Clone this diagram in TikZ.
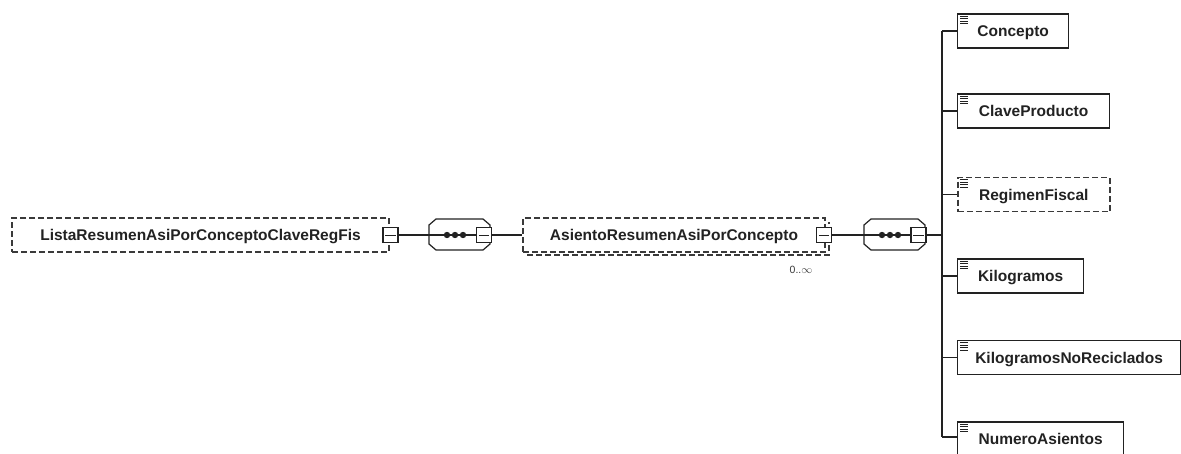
\documentclass[tikz,border=0pt]{standalone}
\usepackage{fontspec}
\setmainfont{Liberation Sans}
\definecolor{ink}{HTML}{222222}
\definecolor{dashgray}{HTML}{3A3A3A}
\tikzset{
  elem/.style={draw=ink, line width=1.3pt, fill=white, minimum height=34pt, inner sep=0pt,
    font=\fontsize{15.5}{16}\selectfont\bfseries, text=ink, text height=11pt, text depth=0pt},
  optelem/.style={elem, draw=dashgray, line width=1.5pt, dash pattern=on 6pt off 3pt},
  minusbox/.style={draw=ink, line width=1.2pt, fill=white, minimum size=15pt, inner sep=0pt},
  conn/.style={draw=ink, line width=1.2pt},
  octo/.style={draw=ink, line width=1.2pt, fill=white},
  dot/.style={fill=ink, draw=none},
  card/.style={font=\fontsize{10.5}{11}\selectfont, text=dashgray, inner sep=0pt}
}
\newcommand{\minuslines}[1]{\draw[ink, line width=1pt] ([xshift=3pt]#1.west) -- ([xshift=-3pt]#1.east);}
\newcommand{\docicon}[1]{%
  \coordinate (tmp) at (#1.north west);
  \foreach \yy in {3,5.5,8,10.5} {\draw[ink, line width=0.8pt] ([shift={(3,\yy)}]tmp) -- ([shift={(11,\yy)}]tmp);}}
\begin{document}
\begin{tikzpicture}[x=1pt,y=-1pt]
\useasboundingbox (0,0) rectangle (1181,453);
\fill[white] (0,0) rectangle (1181,453);

% left root element
\node[optelem, minimum width=377pt] (root) at (200.5,235) {ListaResumenAsiPorConceptoClaveRegFis};
\node[minusbox] (sqR) at (390.5,235) {};
\minuslines{sqR}

% sequence 1
\draw[octo] (436,219) -- (483,219) -- (490,225) -- (490,244) -- (483,250) -- (436,250) -- (429,244) -- (429,225) -- cycle;
\coordinate (oc1w) at (429,235);
\node[minusbox] (sq1) at (484,235) {};
\minuslines{sq1}
\draw[conn] (oc1w) -- (sq1.west);
\foreach \x in {447,455,463} \fill[dot] (\x,235) circle (3.2pt);
\draw[conn] (sqR.east) -- (oc1w);

% middle element (repeating)
\draw[draw=dashgray, line width=1.5pt, dash pattern=on 6pt off 3pt] (527,255) -- (829,255) -- (829,222);
\node[optelem, minimum width=302pt] (mid) at (674,235) {AsientoResumenAsiPorConcepto};
\node[minusbox] (sqM) at (824,235) {};
\minuslines{sqM}
\node[card] (cardM) at (801,270) {0..$\infty$};
\draw[conn] (sq1.east) -- (mid.west);

% sequence 2
\draw[octo] (871,219) -- (918,219) -- (925,225) -- (925,244) -- (918,250) -- (871,250) -- (864,244) -- (864,225) -- cycle;
\coordinate (oc2w) at (864,235);
\node[minusbox] (sq2) at (918.5,235) {};
\minuslines{sq2}
\draw[conn] (oc2w) -- (sq2.west);
\foreach \x in {882,890,898} \fill[dot] (\x,235) circle (3.2pt);
\draw[conn] (sqM.east) -- (oc2w);

% children
\node[elem, anchor=west, minimum width=111pt] (c1) at (957,31) {Concepto};
\node[elem, anchor=west, minimum width=152pt] (c2) at (957,111) {ClaveProducto};
\node[optelem, anchor=west, minimum width=152pt] (c3) at (957,194.5) {RegimenFiscal};
\node[elem, anchor=west, minimum width=126pt] (c4) at (957,276) {Kilogramos};
\node[elem, anchor=west, minimum width=223pt] (c5) at (957,357.5) {KilogramosNoReciclados};
\node[elem, anchor=west, minimum width=166pt] (c6) at (957,439) {NumeroAsientos};
\docicon{c1}
\docicon{c2}
\docicon{c3}
\docicon{c4}
\docicon{c5}
\docicon{c6}

\coordinate (bus) at (942,235);
\draw[conn] (sq2.east) -- (bus);
\draw[conn] (942,31) -- (942,437);
\foreach \n in {c1,c2,c3,c4,c5} {\draw[conn] (\n.west -| bus) -- (\n.west);}
\draw[conn] (942,437) -- (c6.west |- 0,437);
\end{tikzpicture}
\end{document}
